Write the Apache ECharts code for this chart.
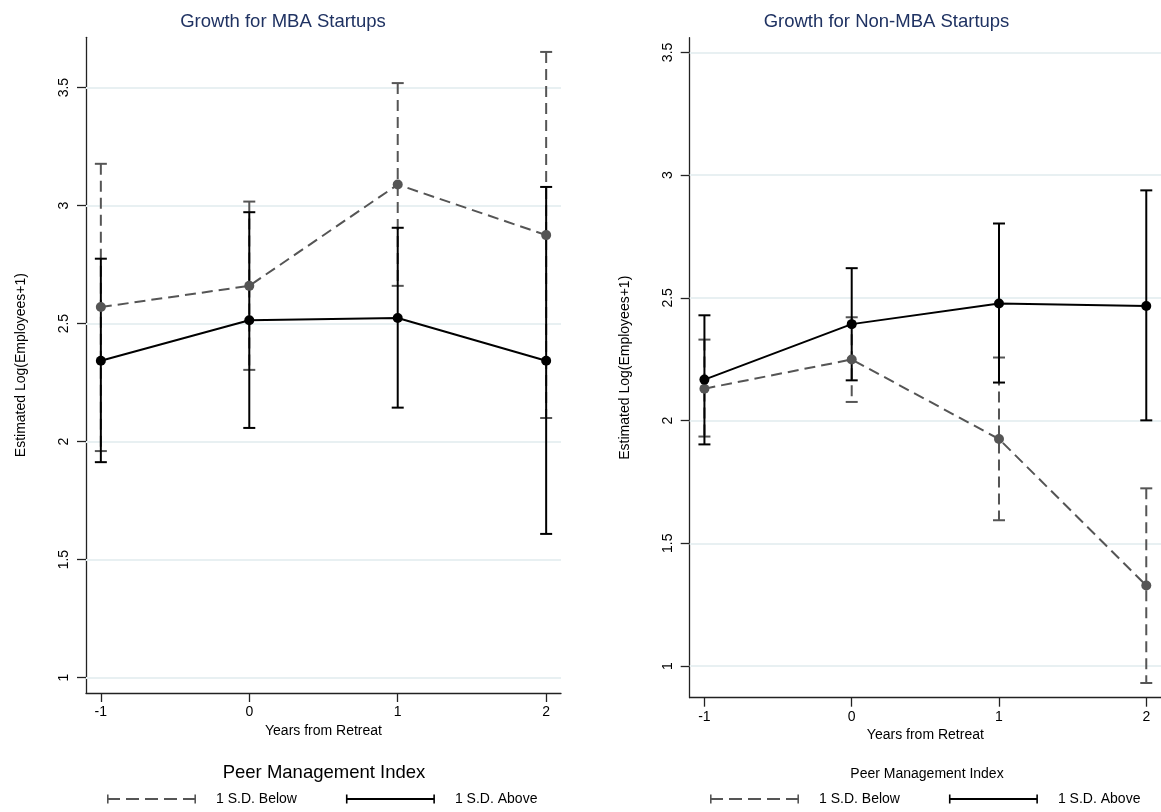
<!DOCTYPE html>
<html><head><meta charset="utf-8">
<script src="https://cdn.jsdelivr.net/npm/echarts@6/dist/echarts.min.js"></script>
<style>html,body{margin:0;padding:0;background:#fff}#c{width:1161px;height:812px}</style>
</head><body><div id="c"></div>
<script>
// ---------- data ----------
const years = [-1, 0, 1, 2];
const xTicks = [-1, 0, 1, 2];
const yTicks = [1, 1.5, 2, 2.5, 3, 3.5];
const panelTitles = ['Growth for MBA Startups', 'Growth for Non-MBA Startups'];
const xAxisTitle = 'Years from Retreat';
const yAxisTitle = 'Estimated Log(Employees+1)';
const legendTitle = 'Peer Management Index';
const seriesNames = ['1 S.D. Below', '1 S.D. Above'];
// MBA startups
const mbaBelowMean = [2.570, 2.660, 3.089, 2.875];
const mbaBelowLow  = [1.960, 2.304, 2.660, 2.100];
const mbaBelowHigh = [3.177, 3.017, 3.519, 3.651];
const mbaAboveMean = [2.343, 2.514, 2.524, 2.343];
const mbaAboveLow  = [1.913, 2.058, 2.144, 1.609];
const mbaAboveHigh = [2.775, 2.972, 2.906, 3.079];
// Non-MBA startups
const nonBelowMean = [2.130, 2.249, 1.925, 1.328];
const nonBelowLow  = [1.935, 2.076, 1.594, 0.931];
const nonBelowHigh = [2.330, 2.421, 2.257, 1.724];
const nonAboveMean = [2.167, 2.393, 2.477, 2.467];
const nonAboveLow  = [1.903, 2.164, 2.155, 2.001];
const nonAboveHigh = [2.429, 2.621, 2.803, 2.938];

// ---------- styling / layout ----------
const FONT = "'Liberation Sans', Arial, sans-serif";
const GRAY = '#555555';
const BLACK = '#000000';
const AXIS = '#222222';
const GRID = '#e8f0f2';
const NAVY = '#1f3262';
const DASH = [11, 6];

const panels = [
  { below: [mbaBelowMean, mbaBelowLow, mbaBelowHigh], above: [mbaAboveMean, mbaAboveLow, mbaAboveHigh],
    grid: { left: 86, top: 37.3, width: 475, height: 655.7 }, yMin: 0.935, yMax: 3.713,
    titleX: 283, legendX: 107, legendTitleX: 324, legendTitleTop: 763, legendTitleSize: 18.5 },
  { below: [nonBelowMean, nonBelowLow, nonBelowHigh], above: [nonAboveMean, nonAboveLow, nonAboveHigh],
    grid: { left: 689.7, top: 37.7, width: 474.8, height: 660 }, yMin: 0.871, yMax: 3.56,
    titleX: 886.5, legendX: 710, legendTitleX: 927, legendTitleTop: 767, legendTitleSize: 14 }
];

function errRender(dashed, color) {
  return function (params, api) {
    const x = api.value(0), lo = api.value(1), hi = api.value(2);
    const t = api.coord([x, hi]), b = api.coord([x, lo]);
    const hw = 6;
    const capStyle = { stroke: color, lineWidth: 2, fill: null };
    return { type: 'group', children: [
      { type: 'line', shape: { x1: t[0], y1: t[1], x2: b[0], y2: b[1] },
        style: { stroke: color, lineWidth: 2, fill: null, lineDash: dashed ? DASH : null } },
      { type: 'line', shape: { x1: t[0] - hw, y1: t[1], x2: t[0] + hw, y2: t[1] }, style: capStyle },
      { type: 'line', shape: { x1: b[0] - hw, y1: b[1], x2: b[0] + hw, y2: b[1] }, style: capStyle }
    ]};
  };
}

function rect(x0, x1, y0, y1) { return 'M' + x0 + ' ' + y0 + 'H' + x1 + 'V' + y1 + 'H' + x0 + 'Z'; }
const solidIcon = 'path://' + rect(0, 1.6, 0, 9) + rect(0, 89, 3.6, 5.4) + rect(87.4, 89, 0, 9);
let dashedPathStr = rect(0, 1.6, 0, 9) + rect(87.4, 89, 0, 9);
for (let k = 0; k < 5; k++) { const x0 = k * 19; dashedPathStr += rect(x0, x0 + 13, 3.6, 5.4); }
const dashedIcon = 'path://' + dashedPathStr;

const option = {
  animation: false,
  backgroundColor: '#ffffff',
  textStyle: { fontFamily: FONT },
  title: [],
  legend: [],
  grid: [],
  xAxis: [],
  yAxis: [],
  series: []
};

panels.forEach((p, i) => {
  option.grid.push(Object.assign({ containLabel: false }, p.grid));
  option.title.push({ text: panelTitles[i], left: p.titleX, top: 12, textAlign: 'center', padding: 0,
    textStyle: { fontSize: 18.5, fontWeight: 'normal', color: NAVY, fontFamily: FONT } });
  option.title.push({ text: legendTitle, left: p.legendTitleX, top: p.legendTitleTop, textAlign: 'center', padding: 0,
    textStyle: { fontSize: p.legendTitleSize, fontWeight: 'normal', color: '#000', fontFamily: FONT } });
  option.legend.push({
    left: p.legendX, top: 792, padding: 0, orient: 'horizontal', itemWidth: 89, itemHeight: 9, itemGap: 49,
    selectedMode: false,
    textStyle: { fontSize: 14, color: '#000', fontFamily: FONT, padding: [0, 0, 0, 15] },
    data: [
      { name: seriesNames[0], icon: dashedIcon, itemStyle: { color: GRAY } },
      { name: seriesNames[1], icon: solidIcon, itemStyle: { color: BLACK } }
    ]
  });
  option.xAxis.push({
    type: 'value', gridIndex: i, min: -1.1, max: 2.1,
    axisLine: { show: true, onZero: false, lineStyle: { color: AXIS, width: 1.3 } },
    axisTick: { show: true, customValues: xTicks, length: 9, lineStyle: { color: AXIS, width: 1.3 } },
    axisLabel: { customValues: xTicks, margin: 12, color: '#000', fontSize: 14, fontFamily: FONT },
    splitLine: { show: false },
    name: xAxisTitle, nameLocation: 'middle', nameGap: 30,
    nameTextStyle: { fontSize: 14, color: '#000', fontFamily: FONT }
  });
  option.yAxis.push({
    type: 'value', gridIndex: i, min: p.yMin, max: p.yMax,
    axisLine: { show: true, onZero: false, lineStyle: { color: AXIS, width: 1.3 } },
    axisTick: { show: true, customValues: yTicks, length: 9, lineStyle: { color: AXIS, width: 1.3 } },
    axisLabel: { customValues: yTicks, rotate: 90, margin: 15, color: '#000', fontSize: 14, fontFamily: FONT },
    splitLine: { show: false },
    name: yAxisTitle, nameLocation: 'middle', nameGap: 58,
    nameTextStyle: { fontSize: 14, color: '#000', fontFamily: FONT }
  });
  const groups = [
    { name: seriesNames[0], d: p.below, color: GRAY, dashed: true },
    { name: seriesNames[1], d: p.above, color: BLACK, dashed: false }
  ];
  // gridlines
  option.series.push({
    type: 'line', name: 'grid' + i, xAxisIndex: i, yAxisIndex: i, data: [], z: 1, silent: true,
    markLine: { silent: true, z: 1, symbol: ['none', 'none'], label: { show: false }, animation: false,
      lineStyle: { color: GRID, width: 2, type: 'solid' },
      data: yTicks.map(v => ({ yAxis: v })) }
  });
  groups.forEach(g => {
    option.series.push({
      type: 'custom', name: g.name, xAxisIndex: i, yAxisIndex: i, z: 3,
      itemStyle: { color: g.color },
      renderItem: errRender(g.dashed, g.color),
      data: years.map((x, k) => [x, g.d[1][k], g.d[2][k]])
    });
  });
  groups.forEach(g => {
    option.series.push({
      type: 'line', name: g.name, xAxisIndex: i, yAxisIndex: i, z: 4,
      symbol: 'circle', symbolSize: 10, showSymbol: true,
      itemStyle: { color: g.color, borderWidth: 0 },
      lineStyle: { color: g.color, width: 2, type: g.dashed ? DASH : 'solid' },
      data: years.map((x, k) => [x, g.d[0][k]])
    });
  });
});

const chart = echarts.init(document.getElementById('c'), null, { renderer: 'canvas' });
chart.setOption(option);
</script>
</body></html>
